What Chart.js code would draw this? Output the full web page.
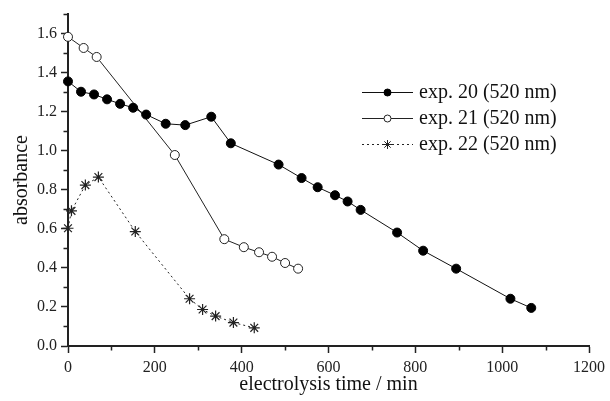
<!DOCTYPE html>
<html>
<head>
<meta charset="utf-8">
<script src="https://cdn.jsdelivr.net/npm/chart.js@4.4.1/dist/chart.umd.min.js"></script>
<style>
  html, body { margin: 0; padding: 0; background: #fff; }
  #wrap { width: 610px; height: 401px; position: relative; }
</style>
</head>
<body>
<div id="wrap"><canvas id="c" width="610" height="401"></canvas></div>
<script>
// ---- data ----
const seriesNames = ['exp. 20 (520 nm)', 'exp. 21 (520 nm)', 'exp. 22 (520 nm)'];

const exp20Time = [0, 30, 60, 90, 120, 150, 180, 225, 270, 330, 375, 485, 538, 575, 615, 644, 674, 758, 818, 894, 1019, 1067];
const exp20Abs  = [1.355, 1.302, 1.288, 1.263, 1.240, 1.220, 1.185, 1.138, 1.131, 1.174, 1.038, 0.929, 0.860, 0.813, 0.772, 0.740, 0.697, 0.581, 0.488, 0.396, 0.242, 0.195];

const exp21Time = [0, 36, 66, 246, 360, 405, 440, 470, 500, 530];
const exp21Abs  = [1.583, 1.526, 1.480, 0.978, 0.547, 0.506, 0.480, 0.457, 0.425, 0.396];

const exp22Time = [0, 8, 40, 70, 155, 280, 310, 340, 381, 429];
const exp22Abs  = [0.603, 0.692, 0.824, 0.865, 0.586, 0.242, 0.187, 0.153, 0.120, 0.093];

const xMajorTicks = [0, 200, 400, 600, 800, 1000, 1200];
const xMinorTicks = [100, 300, 500, 700, 900, 1100];
const yMajorTicks = [0.0, 0.2, 0.4, 0.6, 0.8, 1.0, 1.2, 1.4, 1.6];
const yMinorTicks = [0.1, 0.3, 0.5, 0.7, 0.9, 1.1, 1.3, 1.5, 1.7];

const xTitle = 'electrolysis time / min';
const yTitle = 'absorbance';

function toPts(xs, ys) { return xs.map((x, i) => ({ x: x, y: ys[i] })); }

const AX = '#222';
const SERIF = "'Liberation Serif', 'DejaVu Serif', serif";

const minorTicksPlugin = {
  id: 'minorTicks',
  afterDraw(chart) {
    const ctx = chart.ctx;
    const xs = chart.scales.x, ys = chart.scales.y;
    const a = chart.chartArea;
    ctx.save();
    ctx.strokeStyle = AX;
    ctx.lineWidth = 1.5;
    ctx.beginPath();
    xMinorTicks.forEach(v => {
      const px = Math.round(xs.getPixelForValue(v)) + 0.5;
      ctx.moveTo(px, a.bottom);
      ctx.lineTo(px, a.bottom + 4.5);
    });
    yMinorTicks.forEach(v => {
      const py = Math.round(ys.getPixelForValue(v)) + 0.5;
      ctx.moveTo(a.left, py);
      ctx.lineTo(a.left - 4.5, py);
    });
    ctx.stroke();
    ctx.restore();
  }
};

const legendPlugin = {
  id: 'insideLegend',
  afterDraw(chart) {
    const ctx = chart.ctx;
    const x0 = 362, x1 = 413, tx = 419;
    const rows = [92, 118, 144];
    ctx.save();
    chart.data.datasets.forEach((ds, i) => {
      const y = rows[i];
      ctx.save();
      ctx.strokeStyle = ds.borderColor;
      ctx.lineWidth = 1;
      ctx.setLineDash(ds.borderDash || []);
      ctx.beginPath();
      ctx.moveTo(x0, y + 0.5);
      ctx.lineTo(x1, y + 0.5);
      ctx.stroke();
      ctx.restore();
      ctx.save();
      ctx.fillStyle = ds.pointBackgroundColor;
      ctx.strokeStyle = ds.pointBorderColor;
      ctx.lineWidth = 1;
      Chart.helpers.drawPoint(ctx, {
        pointStyle: ds.pointStyle,
        radius: ds.pointStyle === 'star' ? 4.5 : 3.5,
        borderWidth: 1,
        rotation: 0
      }, (x0 + x1) / 2, y + 0.5);
      ctx.restore();
      ctx.fillStyle = '#111';
      ctx.font = '20px ' + SERIF;
      ctx.textBaseline = 'middle';
      ctx.textAlign = 'left';
      ctx.fillText(ds.label, tx, y + 1);
    });
    ctx.restore();
  }
};

new Chart(document.getElementById('c'), {
  type: 'scatter',
  data: {
    datasets: [
      {
        label: seriesNames[0],
        data: toPts(exp20Time, exp20Abs),
        showLine: true,
        borderColor: '#111',
        borderWidth: 1,
        pointStyle: 'circle',
        pointRadius: 4.5,
        pointBackgroundColor: '#000',
        pointBorderColor: '#000',
        pointBorderWidth: 1,
        clip: false
      },
      {
        label: seriesNames[1],
        data: toPts(exp21Time, exp21Abs),
        showLine: true,
        borderColor: '#222',
        borderWidth: 1,
        pointStyle: 'circle',
        pointRadius: 4.5,
        pointBackgroundColor: '#fff',
        pointBorderColor: '#222',
        pointBorderWidth: 1,
        clip: false
      },
      {
        label: seriesNames[2],
        data: toPts(exp22Time, exp22Abs),
        showLine: true,
        borderColor: '#222',
        borderWidth: 1,
        borderDash: [2, 3],
        pointStyle: 'star',
        pointRadius: 5.5,
        pointBackgroundColor: '#222',
        pointBorderColor: '#222',
        pointBorderWidth: 1.2,
        clip: false
      }
    ]
  },
  options: {
    responsive: false,
    animation: false,
    devicePixelRatio: 1,
    layout: { padding: { left: 0, top: 14, right: 17, bottom: 0 } },
    plugins: {
      legend: { display: false },
      tooltip: { enabled: false }
    },
    scales: {
      x: {
        type: 'linear',
        min: 0,
        max: 1200,
        afterFit(s) { s.height = 55; },
        afterBuildTicks(s) { s.ticks = xMajorTicks.map(v => ({ value: v })); },
        ticks: {
          color: '#222',
          font: { family: SERIF, size: 16 },
          padding: 5,
          maxRotation: 0,
          callback: v => String(v)
        },
        grid: { drawOnChartArea: false, drawTicks: true, tickLength: 7, tickWidth: 1.5, tickColor: AX },
        border: { display: true, color: AX, width: 2 },
        title: {
          display: true,
          text: xTitle,
          color: '#111',
          font: { family: SERIF, size: 20 },
          padding: { top: 0, bottom: 4 }
        }
      },
      y: {
        type: 'linear',
        min: 0,
        max: 1.7,
        afterFit(s) { s.width = 68; },
        afterBuildTicks(s) { s.ticks = yMajorTicks.map(v => ({ value: v })); },
        ticks: {
          color: '#222',
          font: { family: SERIF, size: 16 },
          padding: 4,
          callback: v => Number(v).toFixed(1)
        },
        grid: { drawOnChartArea: false, drawTicks: true, tickLength: 7, tickWidth: 1.5, tickColor: AX },
        border: { display: true, color: AX, width: 2 },
        title: {
          display: true,
          text: yTitle,
          color: '#111',
          font: { family: SERIF, size: 20 },
          padding: { top: 10, bottom: 0 }
        }
      }
    }
  },
  plugins: [minorTicksPlugin, legendPlugin]
});
</script>
</body>
</html>
